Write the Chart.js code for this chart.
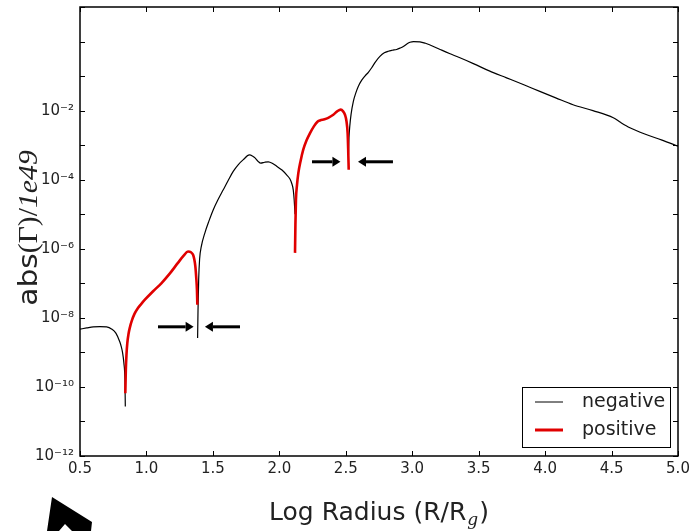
<!DOCTYPE html>
<html>
<head>
<meta charset="utf-8">
<script src="https://cdn.jsdelivr.net/npm/chart.js@4/dist/chart.umd.min.js"></script>
<style>
  html, body { margin: 0; padding: 0; background: #fff; }
  #wrap { width: 690px; height: 531px; position: relative; }
</style>
</head>
<body>
<div id="wrap"><canvas id="c"></canvas></div>
<script>
// ---- data (Log Radius vs abs(Gamma)/1e49); null = gap between segments ----
const negX = [0.50,0.55,0.60,0.65,0.70,0.74,0.77,0.80,0.81,0.82,0.83,0.838,0.841,
  1.0,
  1.385,1.388,1.393,1.40,1.413,1.44,1.47,1.503,1.54,1.578,1.615,1.653,1.69,1.729,1.774,1.80,1.817,1.84,1.86,1.89,1.917,1.95,1.98,2.02,2.055,2.08,2.093,2.105,2.112,2.118,
  2.3,
  2.52,2.524,2.53,2.54,2.557,2.575,2.594,2.62,2.644,2.67,2.695,2.725,2.757,2.79,2.82,2.85,2.883,2.91,2.933,2.96,2.983,3.01,3.058,3.10,3.13,3.21,3.28,3.35,3.46,3.58,3.71,3.84,3.96,4.08,4.21,4.36,4.513,4.57,4.638,4.75,4.88,5.0];
const negY = [4.7e-9,5.1e-9,5.5e-9,5.6e-9,5.5e-9,4.7e-9,3.6e-9,2.0e-9,1.5e-9,1.0e-9,5.0e-10,1.6e-10,2.7e-11,
  null,
  2.6e-9,1.6e-8,1.26e-7,5.0e-7,1.17e-6,2.9e-6,6.3e-6,1.35e-5,2.7e-5,5.1e-5,9.5e-5,1.74e-4,2.7e-4,3.8e-4,5.2e-4,4.8e-4,4.3e-4,3.4e-4,3.0e-4,3.2e-4,3.3e-4,2.95e-4,2.45e-4,1.9e-4,1.38e-4,1.05e-4,7.9e-5,5.0e-5,2.5e-5,1.0e-5,
  null,
  5.0e-4,1.6e-3,3.5e-3,7.9e-3,1.86e-2,3.2e-2,5.0e-2,7.6e-2,0.10,0.129,0.174,0.263,0.37,0.47,0.525,0.56,0.59,0.65,0.72,0.85,0.95,1.0,0.98,0.89,0.81,0.59,0.45,0.35,0.23,0.141,0.089,0.056,0.036,0.0234,0.0148,0.010,0.0062,0.0045,0.0032,0.0021,0.0014,9.3e-4];

const posX = [0.841,0.845,0.85,0.856,0.865,0.876,0.89,0.91,0.935,0.96,0.99,1.05,1.112,1.175,1.237,1.28,1.313,1.335,1.35,1.36,1.368,1.375,1.38,1.383,
  1.8,
  2.118,2.121,2.125,2.133,2.143,2.16,2.18,2.205,2.23,2.26,2.285,2.306,2.34,2.368,2.406,2.435,2.462,2.48,2.494,2.505,2.514,2.518,2.522];
const posY = [6.6e-11,3.2e-10,8.9e-10,1.86e-9,3.4e-9,5.4e-9,8.3e-9,1.3e-8,1.9e-8,2.5e-8,3.4e-8,5.9e-8,1.0e-7,1.9e-7,3.9e-7,6.3e-7,8.3e-7,7.9e-7,6.8e-7,5.0e-7,3.1e-7,1.4e-7,6.5e-8,2.4e-8,
  null,
  7.6e-7,5.0e-6,2.6e-5,7.1e-5,1.55e-4,3.5e-4,7.4e-4,1.38e-3,2.2e-3,3.5e-3,4.7e-3,5.2e-3,5.6e-3,6.2e-3,7.6e-3,9.5e-3,1.07e-2,9.5e-3,7.6e-3,5.0e-3,2.2e-3,7.9e-4,1.95e-4];

// annotation arrows: [y, from x, to x]
const arrowY    = [5.5e-9, 5.5e-9, 3.3e-4, 3.3e-4];
const arrowFrom = [1.087, 1.704, 2.246, 2.855];
const arrowTo   = [1.355, 1.44, 2.46, 2.592];

// axis ticks
const xTicks = [0.5,1.0,1.5,2.0,2.5,3.0,3.5,4.0,4.5,5.0];
const yExps  = [-12,-11,-10,-9,-8,-7,-6,-5,-4,-3,-2,-1,0,1];
const yLabelExps = [-12,-10,-8,-6,-4,-2];

const legendLabels = ['negative','positive'];

const SUP = {'-':'\u207B','0':'\u2070','1':'\u00B9','2':'\u00B2','3':'\u00B3','4':'\u2074','5':'\u2075','6':'\u2076','7':'\u2077','8':'\u2078','9':'\u2079'};
const sup = s => String(s).split('').map(c => SUP[c]).join('');

const toPts = (xs, ys) => xs.map((x,i) => ({x: x, y: ys[i]}));

const FONT = "'DejaVu Sans', sans-serif";
const TXT = '#222';

const decorPlugin = {
  id: 'decor',
  afterDraw(chart) {
    const ctx = chart.ctx, a = chart.chartArea;
    const xs = chart.scales.x, ys = chart.scales.y;
    ctx.save();
    // inward ticks on all four sides
    ctx.strokeStyle = '#000'; ctx.lineWidth = 1;
    const L = 5;
    ctx.beginPath();
    xTicks.forEach(v => {
      const p = Math.round(xs.getPixelForValue(v)) + 0.5;
      ctx.moveTo(p, a.bottom); ctx.lineTo(p, a.bottom - L);
      ctx.moveTo(p, a.top); ctx.lineTo(p, a.top + L);
    });
    yExps.forEach(e => {
      const p = Math.round(ys.getPixelForValue(Math.pow(10, e))) + 0.5;
      ctx.moveTo(a.left, p); ctx.lineTo(a.left + L, p);
      ctx.moveTo(a.right, p); ctx.lineTo(a.right - L, p);
    });
    ctx.stroke();
    // frame
    ctx.lineWidth = 1.5;
    ctx.strokeRect(a.left, a.top, a.right - a.left, a.bottom - a.top);

    // arrows
    ctx.fillStyle = '#000'; ctx.strokeStyle = '#000'; ctx.lineWidth = 3;
    arrowY.forEach((yv, i) => {
      const y = ys.getPixelForValue(yv);
      const x0 = xs.getPixelForValue(arrowFrom[i]);
      const x1 = xs.getPixelForValue(arrowTo[i]);
      const dir = Math.sign(x1 - x0);
      const hl = 8, hw = 5;
      ctx.beginPath();
      ctx.moveTo(x0, y); ctx.lineTo(x1 - dir * hl, y); ctx.stroke();
      ctx.beginPath();
      ctx.moveTo(x1, y);
      ctx.lineTo(x1 - dir * hl, y - hw);
      ctx.lineTo(x1 - dir * hl, y + hw);
      ctx.closePath(); ctx.fill();
    });

    // legend
    const lx = a.right - 156, ly = a.bottom - 69, lw = 148, lh = 60;
    ctx.fillStyle = '#fff';
    ctx.fillRect(lx, ly, lw, lh);
    ctx.strokeStyle = '#000'; ctx.lineWidth = 1;
    ctx.strokeRect(lx + 0.5, ly + 0.5, lw, lh);
    const rows = [{c:'#000', w:1, y: ly + 15}, {c:'#e00000', w:3, y: ly + 43}];
    rows.forEach((r, i) => {
      ctx.strokeStyle = r.c; ctx.lineWidth = r.w;
      ctx.beginPath(); ctx.moveTo(lx + 13, r.y); ctx.lineTo(lx + 41, r.y); ctx.stroke();
      ctx.fillStyle = TXT; ctx.font = "19px " + FONT;
      ctx.textBaseline = 'middle'; ctx.textAlign = 'left';
      ctx.fillText(legendLabels[i], lx + 60, r.y);
    });

    // x-axis title: Log Radius (R/R_g)
    ctx.fillStyle = TXT;
    ctx.textBaseline = 'alphabetic';
    const f1 = "25px " + FONT, f2 = "italic 17px 'DejaVu Serif', serif";
    ctx.font = f1; const t1 = 'Log Radius (R/R', t3 = ')';
    const w1 = ctx.measureText(t1).width, w3 = ctx.measureText(t3).width;
    ctx.font = f2; const w2 = ctx.measureText('g').width + 2;
    const cx = (a.left + a.right) / 2;
    let sx = cx - (w1 + w2 + w3) / 2;
    const by = 520;
    ctx.font = f1; ctx.textAlign = 'left'; ctx.fillText(t1, sx, by);
    ctx.font = f2; ctx.fillText('g', sx + w1 + 1, by + 5);
    ctx.font = f1; ctx.fillText(t3, sx + w1 + w2, by);

    // y-axis title: abs(Γ)/1e49
    ctx.save();
    ctx.translate(37, 228);
    ctx.rotate(-Math.PI / 2);
    ctx.scale(1.1, 1);
    const parts = [
      {t: 'abs', f: "27px " + FONT},
      {t: '(\u0393)/', f: "27px 'Liberation Serif', 'DejaVu Serif', serif"},
      {t: '1e49', f: "italic 27px 'Liberation Serif', 'DejaVu Serif', serif"}
    ];
    let tw = 0;
    parts.forEach(p => { ctx.font = p.f; p.w = ctx.measureText(p.t).width; tw += p.w; });
    let px = -tw / 2;
    parts.forEach(p => { ctx.font = p.f; ctx.fillText(p.t, px, 0); px += p.w; });
    ctx.restore();

    ctx.restore();
  }
};

// decorative cursor-like arrow in the lower-left corner of the picture
const cornerPlugin = {
  id: 'corner',
  afterDraw(chart) {
    const ctx = chart.ctx;
    ctx.save();
    ctx.fillStyle = '#000';
    ctx.beginPath();
    ctx.moveTo(52, 497); ctx.lineTo(92, 522); ctx.lineTo(91, 531);
    ctx.lineTo(72, 531); ctx.lineTo(65, 524); ctx.lineTo(59, 531);
    ctx.lineTo(47, 531); ctx.closePath(); ctx.fill();
    ctx.restore();
  }
};

new Chart(document.getElementById('c'), {
  type: 'line',
  data: {
    datasets: [
      { label: 'negative', data: toPts(negX, negY), borderColor: '#000', borderWidth: 1.2,
        pointRadius: 0, fill: false, spanGaps: false, cubicInterpolationMode: 'monotone', order: 2 },
      { label: 'positive', data: toPts(posX, posY), borderColor: '#e00000', borderWidth: 2.6,
        pointRadius: 0, fill: false, spanGaps: false, cubicInterpolationMode: 'monotone', order: 1 }
    ]
  },
  options: {
    responsive: true,
    maintainAspectRatio: false,
    animation: false,
    events: [],
    layout: { padding: { left: 0, top: 7, right: 12, bottom: 0 } },
    plugins: { legend: { display: false }, tooltip: { enabled: false } },
    scales: {
      x: {
        type: 'linear', min: 0.5, max: 5.0,
        afterBuildTicks: s => { s.ticks = xTicks.map(v => ({value: v})); },
        afterFit: s => { s.height = 75; s.paddingLeft = 0; s.paddingRight = 0; },
        grid: { display: false, drawTicks: false },
        border: { display: false },
        ticks: { color: TXT, font: { family: FONT, size: 15 }, padding: 4,
                 maxRotation: 0, autoSkip: false, callback: v => v.toFixed(1) }
      },
      y: {
        type: 'logarithmic', min: 1e-12, max: 10,
        afterBuildTicks: s => { s.ticks = yExps.map(e => ({value: Math.pow(10, e)})); },
        afterFit: s => { s.width = 80; s.paddingTop = 0; s.paddingBottom = 0; },
        grid: { display: false, drawTicks: false },
        border: { display: false },
        ticks: { color: TXT, font: { family: FONT, size: 15 }, padding: 6, autoSkip: false,
                 callback: v => { const e = Math.round(Math.log10(v));
                   return yLabelExps.includes(e) ? '10' + sup(e) : ''; } }
      }
    }
  },
  plugins: [decorPlugin, cornerPlugin]
});
</script>
</body>
</html>
